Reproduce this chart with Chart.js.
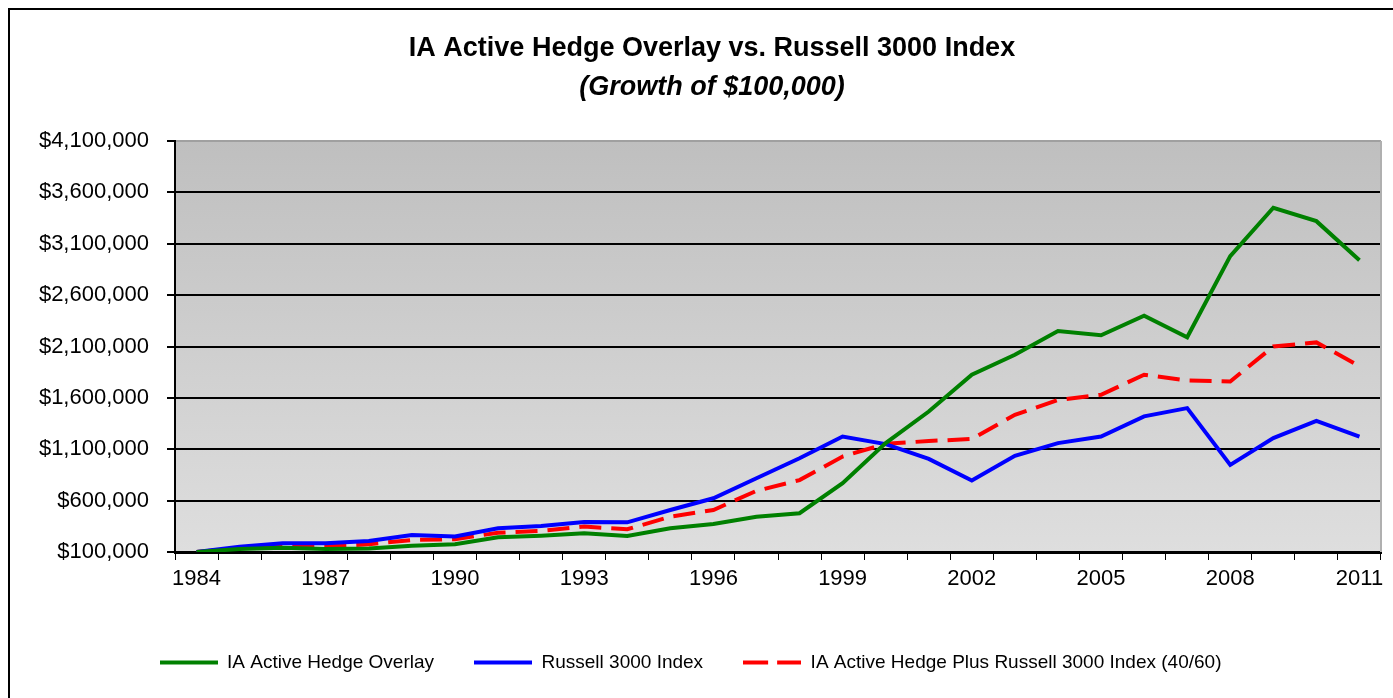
<!DOCTYPE html>
<html>
<head>
<meta charset="utf-8">
<script src="https://cdn.jsdelivr.net/npm/chart.js@4.4.1/dist/chart.umd.min.js"></script>
<style>
  body { margin: 0; background: #fff; }
  canvas { display: block; }
</style>
</head>
<body>
<canvas id="growth" width="1393" height="698"></canvas>
<script>
// Growth of $100,000, year-end values
years = ['1984', '1985', '1986', '1987', '1988', '1989', '1990', '1991', '1992', '1993',
         '1994', '1995', '1996', '1997', '1998', '1999', '2000', '2001', '2002', '2003',
         '2004', '2005', '2006', '2007', '2008', '2009', '2010', '2011']

hedge_overlay = [100000, 130000, 142000, 130000, 133000, 160000, 175000, 243000, 259000, 282000,
                 256000, 331000, 373000, 444000, 477000, 770000, 1160000, 1467000, 1825000, 2020000,
                 2250000, 2210000, 2400000, 2190000, 2980000, 3450000, 3320000, 2940000]

russell_3000 = [100000, 152000, 185000, 185000, 207000, 265000, 250000, 331000, 353000, 392000,
                389000, 509000, 623000, 818000, 1013000, 1224000, 1150000, 1006000, 795000, 1036000,
                1160000, 1224000, 1420000, 1500000, 948000, 1208000, 1377000, 1224000]

hedge_plus_russell = [100000, 140000, 150000, 155000, 175000, 217000, 224000, 288000, 305000, 347000,
                      321000, 444000, 509000, 695000, 800000, 1029000, 1153000, 1180000, 1200000, 1435000,
                      1580000, 1630000, 1825000, 1770000, 1760000, 2100000, 2140000, 1910000]

series_names = ['IA Active Hedge Overlay', 'Russell 3000 Index', 'IA Active Hedge Plus Russell 3000 Index (40/60)']

y_ticks = [100000, 600000, 1100000, 1600000, 2100000, 2600000, 3100000, 3600000, 4100000]

title_text = 'IA Active Hedge Overlay vs. Russell 3000 Index'
subtitle_text = '(Growth of $100,000)'

narrow = "'Liberation Sans Narrow', 'Arial Narrow', 'Liberation Sans', Arial, sans-serif"

// background, outer frame and the two title lines
frame_plugin = {
    id: 'frame',
    beforeDraw: function (chart) {
        const c = chart.ctx
        const a = chart.chartArea
        c.save()
        c.fillStyle = '#fff'
        c.fillRect(0, 0, chart.width, chart.height)

        // grey gradient behind the plot
        const g = c.createLinearGradient(0, a.top, 0, a.bottom)
        g.addColorStop(0, '#bfbfbf')
        g.addColorStop(1, '#dedede')
        c.fillStyle = g
        c.fillRect(a.left, a.top, a.right - a.left, a.bottom - a.top)

        // outer border, only top and left show
        c.strokeStyle = '#000'
        c.lineWidth = 2
        c.beginPath()
        c.moveTo(9, chart.height)
        c.lineTo(9, 9)
        c.lineTo(chart.width, 9)
        c.stroke()
        c.restore()
    },
    afterDraw: function (chart) {
        const c = chart.ctx
        const a = chart.chartArea
        c.save()
        c.strokeStyle = '#b0b0b0'
        c.lineWidth = 2
        c.beginPath()
        c.moveTo(a.right, a.top)
        c.lineTo(a.right, a.bottom)
        c.stroke()

        c.fillStyle = '#000'
        c.textAlign = 'center'
        c.textBaseline = 'middle'
        c.font = 'bold 27px ' + narrow
        c.fillText(title_text, 712, 49)
        c.font = 'italic bold 27px ' + narrow
        c.fillText(subtitle_text, 712, 88)
        c.restore()
    }
}

// little line samples for the legend (the dashed one needs its own gap)
function legend_line(color, dash) {
    const c = document.createElement('canvas')
    c.width = 58
    c.height = 6
    const g = c.getContext('2d')
    g.strokeStyle = color
    g.lineWidth = 4
    g.setLineDash(dash)
    g.beginPath()
    g.moveTo(0, 3)
    g.lineTo(58, 3)
    g.stroke()
    return c
}

ctx = document.getElementById('growth')
colors = ['#008000', '#0000ff', '#ff0000']
dashes = [[], [], [22, 10]]
values = [hedge_overlay, russell_3000, hedge_plus_russell]
legend_marks = [legend_line(colors[0], []), legend_line(colors[1], []), legend_line(colors[2], [25, 9])]
datasets = []
for (let i = 0; i < 3; i++) {
    datasets.push({
        label: series_names[i],
        data: values[i],
        borderColor: colors[i],
        backgroundColor: colors[i],
        borderWidth: 4,
        borderDash: dashes[i],
        pointRadius: 0,
        tension: 0,
        fill: false
    })
}

config = {
    type: 'line',
    data: {
        labels: years,
        datasets: datasets
    },
    options: {
        responsive: false,
        animation: false,
        layout: { padding: { top: 141, left: 0, right: 12, bottom: 16 } },
        plugins: {
            title: { display: false },
            tooltip: { enabled: false },
            legend: {
                position: 'bottom',
                labels: {
                    usePointStyle: true,
                    pointStyleWidth: 58,
                    padding: 40,
                    color: '#000',
                    font: { family: narrow, size: 19 },
                    generateLabels: function (chart) {
                        const items = Chart.defaults.plugins.legend.labels.generateLabels(chart)
                        items.forEach((it, i) => { it.pointStyle = legend_marks[i] })
                        return items
                    }
                }
            }
        },
        scales: {
            x: {
                offset: true,
                grid: { offset: true, drawOnChartArea: false, drawTicks: true, tickLength: 8, color: '#000', lineWidth: 1 },
                border: { color: '#000', width: 3 },
                ticks: {
                    autoSkip: false,
                    maxRotation: 0,
                    padding: 6,
                    color: '#000',
                    font: { family: narrow, size: 22 },
                    callback: function (val, i) {
                        return i % 3 == 0 ? this.getLabelForValue(val) : ''
                    }
                },
                afterFit: function (scale) { scale.height = 61 }
            },
            y: {
                min: y_ticks[0],
                max: y_ticks[y_ticks.length - 1],
                afterBuildTicks: function (scale) {
                    scale.ticks = y_ticks.map(v => ({ value: v }))
                },
                grid: {
                    color: function (c) {
                        return c.tick && c.tick.value == y_ticks[y_ticks.length - 1] ? '#a0a0a0' : '#000'
                    },
                    tickColor: '#000',
                    lineWidth: 2,
                    tickLength: 8
                },
                border: { color: '#000', width: 2 },
                ticks: {
                    padding: 18,
                    color: '#000',
                    font: { family: narrow, size: 22 },
                    callback: function (v) { return '$' + v.toLocaleString('en-US') }
                },
                afterFit: function (scale) { scale.width = 175 }
            }
        }
    },
    plugins: [frame_plugin]
}

new Chart(ctx, config)
</script>
</body>
</html>
